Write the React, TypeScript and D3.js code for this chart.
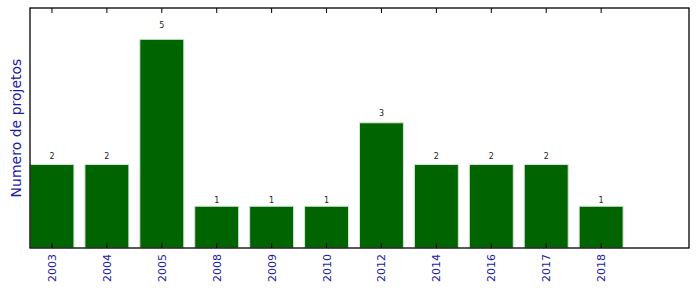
import React from "react";
import * as d3 from "d3";

const years = ["2003", "2004", "2005", "2008", "2009", "2010", "2012", "2014", "2016", "2017", "2018"];
const counts = [2, 2, 5, 1, 1, 1, 3, 2, 2, 2, 1];

const W = 699, H = 292;
const L = 30, T = 8, R = 689, B = 248;

export default function App() {
  const x = d3.scaleLinear().domain([0, 12]).range([L, R]);
  const y = d3.scaleLinear().domain([0, 5.75]).range([B, T]);
  const font = "DejaVu Sans, sans-serif";
  return (
    <svg width={W} height={H} style={{ position: "absolute", left: 0, top: 0 }}>
      <rect x={0} y={0} width={W} height={H} fill="white" />
      {counts.map((c, i) => (
        <g key={i}>
          <rect x={x(i)} y={y(c)} width={x(i + 0.8) - x(i)} height={B - y(c)} fill="#006400" stroke="#d4e4d4" strokeWidth={1} />
          <text x={x(i + 0.4)} y={y(c * 1.05) - 1} textAnchor="middle" fontFamily={font} fontSize={8} fill="#222">{c}</text>
        </g>
      ))}
      {years.map((yr, i) => (
        <g key={yr}>
          <line x1={x(i + 0.4)} x2={x(i + 0.4)} y1={B} y2={B - 5} stroke="black" strokeWidth={1} />
          <line x1={x(i + 0.4)} x2={x(i + 0.4)} y1={T} y2={T + 5} stroke="black" strokeWidth={1} />
          <text transform={`translate(${x(i + 0.4) + 4},${B + 6}) rotate(-90)`} textAnchor="end" fontFamily={font} fontSize={11} fill="#1a1aa6">{yr}</text>
        </g>
      ))}
      <rect x={L} y={T} width={R - L} height={B - T} fill="none" stroke="black" strokeWidth={1.3} />
      <text transform={`translate(21,${(T + B) / 2}) rotate(-90)`} textAnchor="middle" fontFamily={font} fontSize={14} fill="#1a1aa6">Numero de projetos</text>
    </svg>
  );
}
